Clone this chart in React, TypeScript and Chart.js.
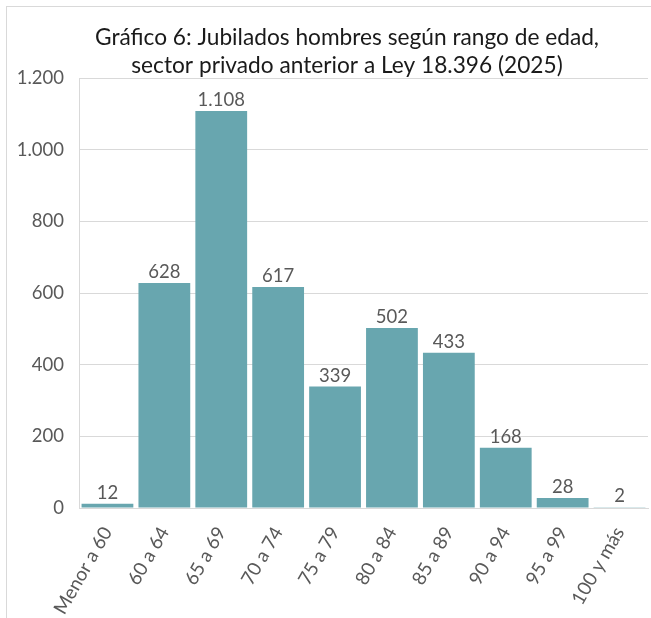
import React, { useEffect, useRef } from "react";
import { Chart, registerables } from "chart.js";

Chart.register(...registerables);

const categories = ["Menor a 60", "60 a 64", "65 a 69", "70 a 74", "75 a 79", "80 a 84", "85 a 89", "90 a 94", "95 a 99", "100 y más"];
const values = [12, 628, 1108, 617, 339, 502, 433, 168, 28, 2];
const titleLines = ["Gráfico 6: Jubilados hombres según rango de edad,", "sector privado anterior a Ley 18.396 (2025)"];
const yTicks = [0, 200, 400, 600, 800, 1000, 1200];

const FONT = "Lato";
const fmt = (v: number) => v.toLocaleString("de-DE");

export default function App() {
  const ref = useRef<HTMLCanvasElement | null>(null);
  useEffect(() => {
    const canvas = ref.current!;
    const labelPlugin = {
      id: "valueLabels",
      afterDatasetsDraw(chart: any) {
        const ctx = chart.ctx;
        const meta = chart.getDatasetMeta(0);
        ctx.save();
        ctx.fillStyle = "#595959";
        ctx.font = `18.5px ${FONT}`;
        ctx.textAlign = "center";
        ctx.textBaseline = "alphabetic";
        meta.data.forEach((bar: any, i: number) => {
          ctx.fillText(fmt(values[i]), bar.x, bar.y - 5);
        });
        ctx.restore();
      },
    };
    const titlePlugin = {
      id: "customTitle",
      afterDraw(chart: any) {
        const ctx = chart.ctx;
        ctx.save();
        ctx.fillStyle = "#1a1a1a";
        ctx.font = `22.7px ${FONT}`;
        ctx.textAlign = "center";
        ctx.textBaseline = "middle";
        ctx.fillText(titleLines[0], 340, 31);
        ctx.fillText(titleLines[1], 340, 59);
        ctx.restore();
      },
    };
    const chart = new Chart(canvas, {
      type: "bar",
      data: {
        labels: categories,
        datasets: [
          {
            data: values,
            backgroundColor: "#68a6af",
            borderWidth: 0,
            barPercentage: 0.91,
            categoryPercentage: 1,
          },
        ],
      },
      options: {
        responsive: false,
        animation: false,
        layout: { padding: { top: 71, left: 0, right: 39, bottom: 0 } },
        plugins: { legend: { display: false }, title: { display: false }, tooltip: { enabled: false } },
        scales: {
          x: {
            grid: { display: false, drawTicks: false },
            border: { display: true, color: "#d9d9d9", width: 1 },
            ticks: {
              color: "#595959",
              font: { family: FONT, size: 19 },
              minRotation: 60,
              maxRotation: 60,
              padding: 15,
              autoSkip: false,
            },
            afterFit: (s: any) => {
              s.height = 139;
            },
          },
          y: {
            min: 0,
            max: 1200,
            afterBuildTicks: (s: any) => {
              s.ticks = yTicks.map((v) => ({ value: v }));
            },
            grid: { color: "#d9d9d9", drawTicks: false, lineWidth: 1 },
            border: { display: true, color: "#d9d9d9", width: 1 },
            ticks: {
              color: "#595959",
              font: { family: FONT, size: 18.5 },
              padding: 15,
              callback: (v: any) => fmt(Number(v)),
            },
            afterFit: (s: any) => {
              s.width = 72;
            },
          },
        },
      },
      plugins: [labelPlugin, titlePlugin],
    });
    return () => chart.destroy();
  }, []);

  return (
    <div style={{ position: "fixed", left: 0, top: 0, width: 651, height: 618, overflow: "hidden", background: "#fff" }}>
      <div style={{ position: "absolute", left: 6, top: 6, width: 680, height: 640, border: "1px solid #d9d9d9" }}>
        <canvas ref={ref} width={680} height={640} style={{ display: "block", width: 680, height: 640 }} />
      </div>
    </div>
  );
}
